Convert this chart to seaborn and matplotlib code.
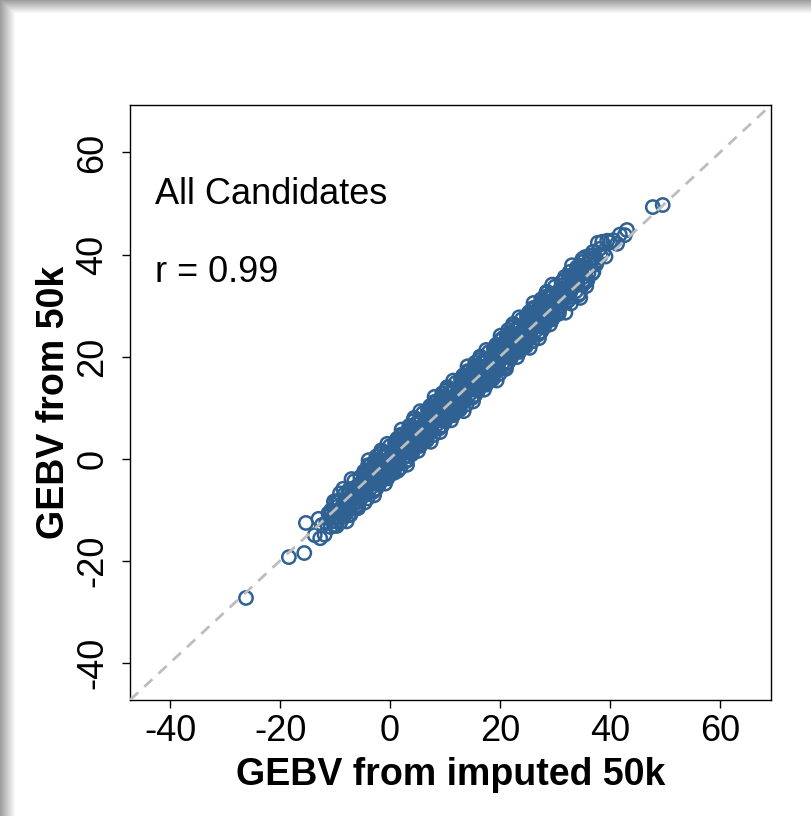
import numpy as np
import matplotlib
matplotlib.use("Agg")
import matplotlib.pyplot as plt
import seaborn as sns

band_x = [
    -11.6, -10.8, -11.2, -10.5, -11.9, -11.0,
    -10.1, -9.3, -9.8, -9.0, -9.6, -9.1, -10.0, -9.4,
    -8.6, -7.8, -8.3, -7.5, -8.1, -7.6, -8.5, -7.9, -7.4, -8.2,
    -6.2, -6.9, -5.9, -7.2, -6.5, -6.0, -6.7, -5.8, -7.0, -6.4,
    -5.1, -4.4, -5.6, -4.8, -4.6, -5.3, -4.9, -5.5, -4.7, -5.8,
    -4.6, -3.8, -4.3, -3.5, -4.1, -3.6, -4.5, -3.9, -3.4, -4.2,
    -2.7, -3.4, -2.4, -3.7, -3.0, -2.5, -3.2, -2.3, -3.5, -2.9,
    -2.1, -1.4, -2.6, -1.8, -1.6, -2.3, -1.9, -2.5, -1.7, -2.8,
    -1.6, -0.8, -1.3, -0.5, -1.1, -0.6, -1.5, -0.9, -0.4, -1.2,
    0.3, -0.4, 0.6, -0.7, 0.0, 0.5, -0.2, 0.7, -0.5, 0.1,
    0.9, 1.6, 0.4, 1.2, 1.4, 0.7, 1.1, 0.5, 1.3, 0.2,
    1.4, 2.2, 1.7, 2.5, 1.9, 2.4, 1.5, 2.1, 2.6, 1.8,
    3.3, 2.6, 3.6, 2.3, 3.0, 3.5, 2.8, 3.7, 2.5, 3.1,
    3.9, 4.6, 3.4, 4.2, 4.4, 3.7, 4.1, 3.5, 4.3, 3.2,
    4.4, 5.2, 4.7, 5.5, 4.9, 5.4, 4.5, 5.1, 5.6, 4.8,
    6.3, 5.6, 6.6, 5.3, 6.0, 6.5, 5.8, 6.7, 5.5, 6.1,
    6.9, 7.6, 6.4, 7.2, 7.4, 6.7, 7.1, 6.5, 7.3, 6.2,
    7.4, 8.2, 7.7, 8.5, 7.9, 8.4, 7.5, 8.1, 8.6, 7.8,
    9.3, 8.6, 9.6, 8.3, 9.0, 9.5, 8.8, 9.7, 8.5, 9.1,
    9.9, 10.6, 9.4, 10.2, 10.4, 9.7, 10.1, 9.5, 10.3, 9.2,
    10.4, 11.2, 10.7, 11.5, 10.9, 11.4, 10.5, 11.1, 11.6, 10.8,
    12.3, 11.6, 12.6, 11.3, 12.0, 12.5, 11.8, 12.7, 11.5, 12.1,
    12.9, 13.6, 12.4, 13.2, 13.4, 12.7, 13.1, 12.5, 13.3, 12.2,
    13.4, 14.2, 13.7, 14.5, 13.9, 14.4, 13.5, 14.1, 14.6, 13.8,
    15.3, 14.6, 15.6, 14.3, 15.0, 15.5, 14.8, 15.7, 14.5, 15.1,
    15.9, 16.6, 15.4, 16.2, 16.4, 15.7, 16.1, 15.5, 16.3, 15.2,
    16.4, 17.2, 16.7, 17.5, 16.9, 17.4, 16.5, 17.1, 17.6, 16.8,
    18.3, 17.6, 18.6, 17.3, 18.0, 18.5, 17.8, 18.7, 17.5, 18.1,
    18.9, 19.6, 18.4, 19.2, 19.4, 18.7, 19.1, 18.5, 19.3, 18.2,
    19.4, 20.2, 19.7, 20.5, 19.9, 20.4, 19.5, 20.1, 20.6, 19.8,
    21.3, 20.6, 21.6, 20.3, 21.0, 21.5, 20.8, 21.7, 20.5, 21.1,
    21.9, 22.6, 21.4, 22.2, 22.4, 21.7, 22.1, 21.5, 22.3, 21.2,
    22.4, 23.2, 22.7, 23.5, 22.9, 23.4, 22.5, 23.1, 23.6, 22.8,
    24.3, 23.6, 24.6, 23.3, 24.0, 24.5, 23.8, 24.7, 23.5, 24.1,
    24.9, 25.6, 24.4, 25.2, 25.4, 24.7, 25.1, 24.5, 25.3, 24.2,
    25.4, 26.2, 25.7, 26.5, 25.9, 26.4, 25.5, 26.1, 26.6, 25.8,
    27.3, 26.6, 27.6, 26.3, 27.0, 27.5, 26.8, 27.7, 26.5, 27.1,
    27.9, 28.6, 27.4, 28.2, 28.4, 27.7, 28.1, 27.5, 28.3, 27.2,
    28.4, 29.2, 28.7, 29.5, 28.9, 29.4, 28.5, 29.1, 29.6, 28.8,
    30.3, 29.6, 30.6, 29.3, 30.0, 30.5, 29.8, 30.7, 29.5, 30.1,
    31.4, 32.1, 30.9, 31.7, 31.9, 31.2, 31.6, 31.0, 31.8, 30.7,
    32.4, 33.2, 32.7, 33.5, 32.9, 33.4, 32.5, 33.1, 33.6, 32.8,
    34.8, 34.1, 35.1, 33.8, 34.5, 35.0, 34.3, 35.2, 34.0, 34.6,
    35.7, 36.4, 35.9, 36.6, 36.1, 35.5, 36.8, 36.2,
    37.2, 37.8, 37.5, 38.1, 37.0, 38.3,
    38.8, 39.5, 39.2, 40.0, 38.6,
]
band_y = [
    -12.6, -13.4, -10.7, -12.3, -14.9, -11.2,
    -10.7, -11.4, -8.4, -12.4, -9.4, -10.4, -13.0, -8.5,
    -9.1, -9.8, -7.0, -11.1, -8.0, -8.8, -5.9, -12.3, -6.7, -10.9,
    -7.7, -5.9, -9.1, -7.9, -4.4, -8.3, -6.9, -9.7, -4.0, -7.4,
    -4.8, -6.1, -8.4, -3.1, -8.6, -5.7, -4.0, -7.6, -2.5, -9.2,
    -6.6, -3.4, -2.4, -4.4, -7.8, -2.6, -7.1, -0.3, -3.8, -5.6,
    -0.9, -4.1, -4.6, -3.1, -6.3, 0.4, -3.1, -3.8, -1.2, -7.2,
    -5.0, -0.5, -2.8, -3.6, 1.6, -3.5, -0.3, -5.9, -1.4, -1.3,
    -1.7, -2.4, 0.4, -3.7, -0.6, -1.4, 1.5, -4.9, 0.7, -3.5,
    -0.8, 1.0, -2.2, -1.0, 2.5, -1.4, 0.0, -2.8, 2.9, -0.5,
    1.6, 0.3, -2.0, 3.3, -2.4, 0.7, 2.4, -1.2, 3.9, -2.8,
    -0.6, 2.6, 3.6, 1.6, -1.8, 3.4, -1.1, 5.7, 2.2, 0.4,
    5.1, 1.9, 1.4, 2.9, -0.3, 6.4, 2.9, 2.2, 4.8, -1.2,
    1.4, 5.9, 3.6, 2.8, 8.0, 2.9, 6.1, 0.5, 5.0, 5.1,
    4.7, 4.0, 6.8, 2.7, 5.8, 5.0, 7.9, 1.5, 7.1, 2.9,
    5.6, 7.4, 4.2, 5.4, 8.9, 5.0, 6.4, 3.6, 9.3, 5.9,
    8.0, 6.7, 4.4, 9.7, 3.3, 7.1, 8.8, 5.2, 10.3, 3.6,
    5.8, 9.0, 10.0, 8.0, 4.6, 9.8, 5.3, 12.1, 8.6, 6.8,
    11.5, 8.3, 7.8, 9.3, 6.1, 12.8, 9.3, 8.6, 11.2, 5.2,
    7.4, 11.9, 9.6, 8.8, 14.0, 8.9, 12.1, 6.5, 11.0, 11.1,
    10.7, 10.0, 12.8, 8.7, 11.8, 11.0, 13.9, 7.5, 13.1, 8.9,
    11.6, 13.4, 10.2, 11.4, 14.9, 11.0, 12.4, 9.6, 15.3, 11.9,
    14.0, 12.7, 10.4, 15.7, 9.3, 13.1, 14.8, 11.2, 16.3, 9.6,
    11.8, 15.0, 16.0, 14.0, 10.6, 15.8, 11.3, 18.1, 14.6, 12.8,
    17.5, 14.3, 13.8, 15.3, 12.1, 18.8, 15.3, 14.6, 17.2, 11.2,
    13.4, 17.9, 15.6, 14.8, 20.0, 14.9, 18.1, 12.5, 17.0, 17.1,
    16.7, 16.0, 18.8, 14.7, 17.8, 17.0, 19.9, 13.5, 19.1, 14.9,
    17.6, 19.4, 16.2, 17.4, 20.9, 17.0, 18.4, 15.6, 21.3, 17.9,
    20.0, 18.7, 16.4, 21.7, 15.3, 19.1, 20.8, 17.2, 22.3, 15.6,
    17.8, 21.0, 22.0, 20.0, 16.6, 21.8, 17.3, 24.1, 20.6, 18.8,
    23.9, 20.7, 20.2, 21.7, 18.5, 25.2, 21.7, 21.0, 23.6, 17.6,
    19.8, 24.3, 22.0, 21.2, 26.4, 21.3, 24.5, 18.9, 23.4, 23.5,
    23.1, 22.4, 25.2, 21.1, 24.2, 23.4, 26.3, 19.9, 25.5, 21.3,
    24.0, 25.8, 22.6, 23.8, 27.3, 23.4, 24.8, 22.0, 27.7, 24.3,
    26.4, 25.1, 22.8, 28.1, 21.7, 25.5, 27.2, 23.6, 28.7, 22.0,
    24.2, 27.4, 28.4, 26.4, 23.0, 28.2, 23.7, 30.5, 27.0, 25.2,
    29.9, 26.7, 26.2, 27.7, 24.5, 31.2, 27.7, 27.0, 29.6, 23.6,
    25.8, 30.3, 28.0, 27.2, 32.4, 27.3, 30.5, 24.9, 29.4, 29.5,
    29.5, 28.8, 31.6, 27.5, 30.6, 29.8, 32.7, 26.3, 31.9, 27.7,
    30.4, 32.2, 29.0, 30.2, 33.7, 29.8, 31.2, 28.4, 34.1, 30.7,
    33.3, 32.0, 29.7, 35.0, 28.6, 32.4, 34.1, 30.5, 35.6, 28.9,
    31.6, 34.8, 35.8, 33.8, 30.4, 35.6, 31.1, 37.9, 34.4, 32.6,
    37.8, 34.6, 34.1, 35.6, 32.4, 39.1, 35.6, 34.9, 37.5, 31.5,
    36.9, 39.8, 34.9, 38.6, 36.4, 39.5, 36.3, 38.8,
    39.3, 42.3, 38.1, 41.1, 36.6, 39.8,
    40.6, 42.7, 39.6, 42.4, 42.5,
]

# second pass of candidates filling the core of the cloud
core_x = [
    -10.6, -9.9, -10.2, -10.4, -9.7, -10.7,
    -8.6, -9.3, -8.4, -8.2, -9.1, -8.8,
    -7.6, -6.9, -7.2, -7.4, -6.7, -7.7,
    -5.6, -6.3, -5.4, -5.2, -6.1, -5.8,
    -4.9, -4.2, -4.5, -4.7, -4.0, -5.0,
    -3.3, -4.0, -3.1, -2.9, -3.8, -3.5,
    -2.9, -2.2, -2.5, -2.7, -2.0, -3.0,
    -1.3, -2.0, -1.1, -0.9, -1.8, -1.5,
    -0.9, -0.2, -0.5, -0.7, 0.0, -1.0,
    0.7, 0.0, 0.9, 1.1, 0.2, 0.5,
    1.1, 1.8, 1.5, 1.3, 2.0, 1.0,
    2.7, 2.0, 2.9, 3.1, 2.2, 2.5,
    3.1, 3.8, 3.5, 3.3, 4.0, 3.0,
    4.7, 4.0, 4.9, 5.1, 4.2, 4.5,
    5.1, 5.8, 5.5, 5.3, 6.0, 5.0,
    6.7, 6.0, 6.9, 7.1, 6.2, 6.5,
    7.1, 7.8, 7.5, 7.3, 8.0, 7.0,
    8.7, 8.0, 8.9, 9.1, 8.2, 8.5,
    9.1, 9.8, 9.5, 9.3, 10.0, 9.0,
    10.7, 10.0, 10.9, 11.1, 10.2, 10.5,
    11.1, 11.8, 11.5, 11.3, 12.0, 11.0,
    12.7, 12.0, 12.9, 13.1, 12.2, 12.5,
    13.1, 13.8, 13.5, 13.3, 14.0, 13.0,
    14.7, 14.0, 14.9, 15.1, 14.2, 14.5,
    15.1, 15.8, 15.5, 15.3, 16.0, 15.0,
    16.7, 16.0, 16.9, 17.1, 16.2, 16.5,
    17.1, 17.8, 17.5, 17.3, 18.0, 17.0,
    18.7, 18.0, 18.9, 19.1, 18.2, 18.5,
    19.1, 19.8, 19.5, 19.3, 20.0, 19.0,
    20.7, 20.0, 20.9, 21.1, 20.2, 20.5,
    21.1, 21.8, 21.5, 21.3, 22.0, 21.0,
    22.7, 22.0, 22.9, 23.1, 22.2, 22.5,
    23.1, 23.8, 23.5, 23.3, 24.0, 23.0,
    24.7, 24.0, 24.9, 25.1, 24.2, 24.5,
    25.1, 25.8, 25.5, 25.3, 26.0, 25.0,
    26.7, 26.0, 26.9, 27.1, 26.2, 26.5,
    27.1, 27.8, 27.5, 27.3, 28.0, 27.0,
    28.7, 28.0, 28.9, 29.1, 28.2, 28.5,
    29.1, 29.8, 29.5, 29.3, 30.0, 29.0,
    31.0, 30.3, 31.2, 31.4, 30.5, 30.8,
    31.8, 32.5, 32.2, 32.0, 32.7, 31.7,
    34.0, 33.3, 34.2, 34.4, 33.5, 33.8,
    34.8, 35.5, 35.2, 35.0, 35.7, 34.7,
    36.5, 37.1, 36.9, 37.4,
]
core_y = [
    -10.6, -12.3, -8.4, -11.5, -13.2, -10.1,
    -10.4, -8.2, -11.4, -8.5, -6.8, -10.2,
    -6.7, -8.1, -11.0, -6.0, -7.3, -10.3,
    -5.6, -8.7, -3.6, -6.3, -9.6, -5.2,
    -6.3, -2.7, -7.1, -4.6, -1.3, -6.0,
    -2.0, -4.8, -6.5, -1.1, -4.0, -5.7,
    -2.5, -4.2, -0.3, -3.4, -5.1, -2.0,
    -2.7, -0.5, -3.7, -0.8, 0.9, -2.5,
    0.4, -1.0, -3.9, 1.1, -0.2, -3.2,
    1.1, -2.0, 3.1, 0.4, -2.9, 1.5,
    -0.3, 3.3, -1.1, 1.4, 4.7, 0.0,
    4.0, 1.2, -0.5, 4.9, 2.0, 0.3,
    3.5, 1.8, 5.7, 2.6, 0.9, 4.0,
    3.7, 5.9, 2.7, 5.6, 7.3, 3.9,
    6.8, 5.4, 2.5, 7.5, 6.2, 3.2,
    7.5, 4.4, 9.5, 6.8, 3.5, 7.9,
    6.1, 9.7, 5.3, 7.8, 11.1, 6.4,
    10.4, 7.6, 5.9, 11.3, 8.4, 6.7,
    9.9, 8.2, 12.1, 9.0, 7.3, 10.4,
    9.7, 11.9, 8.7, 11.6, 13.3, 9.9,
    12.8, 11.4, 8.5, 13.5, 12.2, 9.2,
    13.5, 10.4, 15.5, 12.8, 9.5, 13.9,
    12.1, 15.7, 11.3, 13.8, 17.1, 12.4,
    16.4, 13.6, 11.9, 17.3, 14.4, 12.7,
    15.9, 14.2, 18.1, 15.0, 13.3, 16.4,
    15.7, 17.9, 14.7, 17.6, 19.3, 15.9,
    18.8, 17.4, 14.5, 19.5, 18.2, 15.2,
    19.5, 16.4, 21.5, 18.8, 15.5, 19.9,
    18.1, 21.7, 17.3, 19.8, 23.1, 18.4,
    22.4, 19.6, 17.9, 23.3, 20.4, 18.7,
    22.3, 20.6, 24.5, 21.4, 19.7, 22.8,
    22.1, 24.3, 21.1, 24.0, 25.7, 22.3,
    25.2, 23.8, 20.9, 25.9, 24.6, 21.6,
    25.9, 22.8, 27.9, 25.2, 21.9, 26.3,
    24.5, 28.1, 23.7, 26.2, 29.5, 24.8,
    28.8, 26.0, 24.3, 29.7, 26.8, 25.1,
    28.3, 26.6, 30.5, 27.4, 25.7, 28.8,
    28.1, 30.3, 27.1, 30.0, 31.7, 28.3,
    31.6, 30.2, 27.3, 32.3, 31.0, 28.0,
    32.6, 29.5, 34.6, 31.9, 28.6, 33.0,
    31.6, 35.2, 30.8, 33.3, 36.6, 31.9,
    36.5, 33.7, 32.0, 37.4, 34.5, 32.8,
    36.4, 34.7, 38.6, 35.5, 33.8, 36.9,
    39.3, 38.1, 40.5, 39.3,
]

# sparse candidates at both ends of the cloud
tail_low_x = [-12.4, -13.0, -12.7, -13.7, -15.3, -15.6, -18.4, -26.2]
tail_low_y = [-13.0, -11.8, -15.6, -15.0, -12.6, -18.5, -19.3, -27.3]
tail_high_x = [40.6, 41.3, 41.8, 42.7, 43.1, 47.8, 49.6]
tail_high_y = [42.8, 42.1, 43.9, 43.8, 44.8, 49.3, 49.7]

ticks = [-40, -20, 0, 20, 40, 60]
lims = (-47.3, 69.3)
point_color = "#2F6193"

sns.set_style("ticks")
plt.rcParams["font.family"] = ["Liberation Sans", "DejaVu Sans"]
plt.rcParams["axes.unicode_minus"] = False
plt.rcParams["text.color"] = "black"
plt.rcParams["axes.labelcolor"] = "black"
plt.rcParams["xtick.color"] = "black"
plt.rcParams["ytick.color"] = "black"

fig = plt.figure(figsize=(8.12, 8.16), dpi=100)

# grey shadow frame along the top and left edge
bg = fig.add_axes([0, 0, 1, 1], zorder=-5)
frame = np.ones((816, 812))
for i in range(13):
    frame[i, :] = np.minimum(frame[i, :], 0.62 + 0.38 * i / 13)
for j in range(15):
    frame[:, j] = np.minimum(frame[:, j], 0.62 + 0.38 * j / 15)
bg.imshow(frame, cmap="gray", vmin=0, vmax=1, aspect="auto",
          interpolation="bilinear")
bg.axis("off")

ax = fig.add_axes([130 / 812, 1 - 700 / 816, 641 / 812, 595 / 816])

all_x = band_x + core_x + tail_low_x + tail_high_x
all_y = band_y + core_y + tail_low_y + tail_high_y
sns.scatterplot(x=all_x, y=all_y, ax=ax, marker="o", s=92,
                facecolors="none", edgecolor=point_color, linewidth=1.8,
                zorder=2)

ax.axline((0, 0), slope=1, color="#BDBDBD", lw=2, ls=(0, (4, 3)), zorder=3)

ax.set_xlim(lims)
ax.set_ylim(lims)
ax.set_xticks(ticks)
ax.set_yticks(ticks)
ax.tick_params(axis="both", direction="out", length=6, width=1,
               color="black", labelsize=26)
ax.tick_params(axis="x", pad=4)
ax.tick_params(axis="y", pad=8, labelrotation=90)
for lab in ax.get_yticklabels():
    lab.set_va("center")

for spine in ax.spines.values():
    spine.set_visible(True)
    spine.set_color("black")
    spine.set_linewidth(1)

ax.set_xlabel("GEBV from imputed 50k", fontsize=27, fontweight="bold")
ax.set_ylabel("GEBV from 50k", fontsize=27, fontweight="bold")
ax.xaxis.set_label_coords(0.5, -0.095)
ax.yaxis.set_label_coords(-0.09, 0.5)

ax.text(0.039, 0.849, "All Candidates", transform=ax.transAxes,
        fontsize=26, ha="left", va="center")
ax.text(0.039, 0.719, "r = 0.99", transform=ax.transAxes,
        fontsize=26, ha="left", va="center")

fig.savefig("out.png", dpi=100)
